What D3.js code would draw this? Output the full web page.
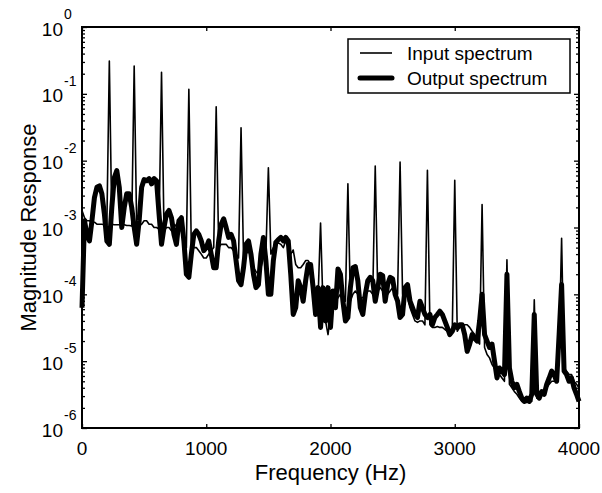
<!DOCTYPE html>
<html>
<head>
<meta charset="utf-8">
<script src="https://cdn.jsdelivr.net/npm/d3@7"></script>
<style>
  body { margin: 0; background: #fff; }
  text { font-family: Arial, "Liberation Sans", Helvetica, sans-serif; fill: #000; }
</style>
</head>
<body>
<div id="chart"></div>
<script>
// spectra sampled every 20 Hz from 0 to 4000 Hz (one row = 200 Hz)
const freqStep = 20;

const inputSpectrum = [
  1.8e-3, 1.4e-3, 1.26e-3, 1.26e-3, 1.2e-3, 1.2e-3, 1.12e-3, 1.12e-3, 1.12e-3, 1.1e-3,
  1.1e-3, 0.31, 1.12e-3, 1.1e-3, 1.1e-3, 1.1e-3, 1.1e-3, 1.1e-3, 1.07e-3, 1.07e-3,
  1.05e-3, 0.26, 1.0e-3, 1.05e-3, 1.12e-3, 1.26e-3, 1.26e-3, 1.12e-3, 1.12e-3, 1.0e-3,
  1.0e-3, 9.5e-4, 0.21, 8.9e-4, 1.0e-3, 1.0e-3, 8.9e-4, 1.0e-3, 1.12e-3, 1.26e-3,
  1.0e-3, 6.3e-4, 5.0e-4, 0.117, 4.5e-4, 5.0e-4, 5.0e-4, 4.5e-4, 4.0e-4, 3.5e-4,
  3.5e-4, 4.0e-4, 4.5e-4, 5.0e-4, 0.064, 5.0e-4, 5.6e-4, 5.6e-4, 5.6e-4, 5.0e-4,
  5.0e-4, 4.5e-4, 4.0e-4, 3.5e-4, 0.031, 3.5e-4, 4.0e-4, 4.5e-4, 3.5e-4, 2.5e-4,
  2.2e-4, 2.0e-4, 2.5e-4, 3.5e-4, 4.0e-4, 7.8e-3, 4.0e-4, 5.0e-4, 5.6e-4, 5.9e-4,
  5.6e-4, 5.0e-4, 6.3e-4, 5.0e-4, 4.0e-4, 4.6e-4, 2.8e-4, 2.5e-4, 2.5e-4, 2.8e-4,
  3.2e-4, 3.2e-4, 2.8e-4, 1.8e-4, 1.0e-4, 8.9e-5, 1.17e-3, 6.3e-5, 4.0e-5, 2.5e-5,
  5.0e-5, 8.9e-5, 7.9e-5, 8.9e-5, 1.0e-4, 8.9e-5, 7.9e-5, 4.5e-3, 7.9e-5, 1.0e-4,
  1.12e-4, 1.0e-4, 8.9e-5, 8.9e-5, 1.0e-4, 1.12e-4, 1.12e-4, 1.0e-4, 8.3e-3, 1.12e-4,
  1.26e-4, 1.12e-4, 1.0e-4, 1.0e-4, 1.12e-4, 1.26e-4, 1.12e-4, 1.0e-4, 9.5e-3, 1.0e-4,
  1.12e-4, 8.9e-5, 6.3e-5, 5.0e-5, 4.0e-5, 3.8e-5, 4.0e-5, 4.0e-5, 3.5e-5, 7.2e-3,
  3.5e-5, 3.2e-5, 3.2e-5, 3.3e-5, 3.2e-5, 3.2e-5, 3.0e-5, 2.8e-5, 2.8e-5, 2.8e-5,
  5.1e-3, 2.8e-5, 3.2e-5, 3.2e-5, 3.5e-5, 3.5e-5, 3.2e-5, 2.8e-5, 2.5e-5, 2.0e-5,
  1.8e-5, 2.2e-3, 1.6e-5, 1.26e-5, 1.12e-5, 8.9e-6, 7.9e-6, 7.1e-6, 6.3e-6, 5.6e-6,
  5.0e-6, 3.3e-4, 4.5e-6, 4.0e-6, 3.5e-6, 3.2e-6, 2.8e-6, 2.5e-6, 2.5e-6, 2.4e-6,
  2.5e-6, 2.5e-6, 8.3e-5, 2.8e-6, 2.8e-6, 3.2e-6, 3.5e-6, 4.0e-6, 4.5e-6, 5.0e-6,
  5.0e-6, 5.6e-6, 1.6e-5, 6.9e-4, 7.9e-6, 7.1e-6, 6.3e-6, 6.3e-6, 5.0e-6, 4.5e-6,
  4.0e-6
];

const outputSpectrum = [
  6.3e-5, 1.26e-3, 7.9e-4, 6.3e-4, 1.26e-3, 2.8e-3, 4.0e-3, 4.2e-3, 3.2e-3, 1.6e-3,
  6.3e-4, 5.6e-4, 2.0e-3, 5.6e-3, 7.1e-3, 4.0e-3, 1.0e-3, 2.0e-3, 3.2e-3, 3.2e-3,
  2.0e-3, 1.0e-3, 5.6e-4, 1.26e-3, 4.0e-3, 5.2e-3, 5.0e-3, 5.4e-3, 4.5e-3, 5.4e-3,
  5.0e-3, 1.6e-3, 5.6e-4, 1.0e-3, 1.6e-3, 1.8e-3, 1.4e-3, 7.9e-4, 5.6e-4, 1.26e-3,
  1.4e-3, 6.3e-4, 2.0e-4, 1.8e-4, 4.0e-4, 7.9e-4, 8.9e-4, 7.9e-4, 6.3e-4, 4.5e-4,
  5.0e-4, 6.3e-4, 4.0e-4, 2.5e-4, 2.5e-4, 6.3e-4, 1.12e-3, 1.35e-3, 1.0e-3, 7.1e-4,
  7.9e-4, 6.3e-4, 3.2e-4, 1.6e-4, 1.4e-4, 2.5e-4, 5.6e-4, 6.3e-4, 4.0e-4, 2.0e-4,
  1.26e-4, 1.4e-4, 4.0e-4, 7.1e-4, 3.2e-4, 1.0e-4, 1.0e-4, 3.2e-4, 6.0e-4, 6.6e-4,
  7.1e-4, 6.3e-4, 7.1e-4, 6.3e-4, 2.0e-4, 5.0e-5, 6.3e-5, 1.6e-4, 1.26e-4, 7.9e-5,
  1.6e-4, 2.8e-4, 2.8e-4, 1.26e-4, 5.0e-5, 1.26e-4, 3.2e-5, 1.26e-4, 4.0e-5, 1.26e-4,
  3.2e-5, 1.12e-4, 6.3e-5, 2.4e-4, 2.0e-4, 7.9e-5, 4.0e-5, 4.5e-5, 1.26e-4, 2.5e-4,
  2.6e-4, 1.6e-4, 6.3e-5, 5.0e-5, 1.0e-4, 1.6e-4, 1.8e-4, 1.6e-4, 7.9e-5, 1.26e-4,
  2.0e-4, 1.9e-4, 7.9e-5, 1.4e-4, 1.8e-4, 1.7e-4, 1.0e-4, 7.9e-5, 4.5e-5, 5.0e-5,
  1.26e-4, 1.4e-4, 7.9e-5, 6.3e-5, 5.0e-5, 4.5e-5, 7.9e-5, 6.3e-5, 5.0e-5, 4.5e-5,
  5.0e-5, 3.5e-5, 4.5e-5, 5.0e-5, 5.6e-5, 5.0e-5, 4.0e-5, 3.2e-5, 2.5e-5, 2.8e-5,
  3.5e-5, 3.2e-5, 3.5e-5, 3.5e-5, 2.5e-5, 1.4e-5, 1.8e-5, 2.5e-5, 2.2e-5, 2.0e-5,
  4.0e-5, 1.0e-4, 2.5e-5, 2.0e-5, 1.6e-5, 1.8e-5, 1.0e-5, 5.6e-6, 7.9e-6, 7.1e-6,
  6.3e-6, 2.0e-4, 7.9e-6, 5.0e-6, 4.0e-6, 4.5e-6, 3.5e-6, 2.8e-6, 2.5e-6, 2.8e-6,
  2.5e-6, 3.2e-6, 5.0e-5, 3.2e-6, 2.8e-6, 3.5e-6, 3.2e-6, 4.5e-6, 5.6e-6, 7.1e-6,
  6.3e-6, 5.0e-6, 2.5e-5, 1.4e-4, 7.1e-6, 6.3e-6, 5.0e-6, 5.6e-6, 4.0e-6, 3.2e-6,
  2.5e-6
];

const xTicks = [0, 1000, 2000, 3000, 4000];
const yExponents = [0, -1, -2, -3, -4, -5, -6];
const legendLabels = ["Input spectrum", "Output spectrum"];

const W = 602, H = 493;
const margin = {top: 27, right: 23, bottom: 65, left: 82},
    width = W - margin.left - margin.right,
    height = H - margin.top - margin.bottom;

var svg = d3.select("#chart")
  .append("svg")
    .attr("width", W)
    .attr("height", H)
  .append("g")
    .attr("transform", "translate(" + margin.left + "," + margin.top + ")");

var x = d3.scaleLinear().domain([0, 4000]).range([0, width]);
var y = d3.scaleLog().domain([1e-6, 1]).range([height, 0]);

// major + minor log ticks
var majors = yExponents.map(e => Math.pow(10, e));
var minors = [];
yExponents.slice(1).forEach(e => {
  for (var m = 2; m <= 9; m++) minors.push(m * Math.pow(10, e));
});

// inside ticks on all four sides
svg.append("g")
  .attr("transform", `translate(0,${height})`)
  .call(d3.axisBottom(x).tickValues(xTicks).tickSize(-4).tickFormat(""));
svg.append("g")
  .call(d3.axisTop(x).tickValues(xTicks).tickSize(-4).tickFormat(""));
svg.append("g")
  .call(d3.axisLeft(y).tickValues(majors).tickSize(-5).tickFormat(""));
svg.append("g")
  .call(d3.axisLeft(y).tickValues(minors).tickSize(-3).tickFormat(""));
svg.append("g")
  .attr("transform", `translate(${width},0)`)
  .call(d3.axisRight(y).tickValues(majors).tickSize(-5).tickFormat(""));
svg.append("g")
  .attr("transform", `translate(${width},0)`)
  .call(d3.axisRight(y).tickValues(minors).tickSize(-3).tickFormat(""));
svg.selectAll(".domain").remove();
svg.selectAll(".tick line").attr("stroke", "#000").attr("stroke-width", 1.3);

// x tick labels
svg.append("g").selectAll("text")
  .data(xTicks)
  .enter().append("text")
    .attr("x", d => x(d))
    .attr("y", height + 27)
    .attr("text-anchor", "middle")
    .style("font-size", "19px")
    .text(d => d);

// y tick labels 10^n
var yl = svg.append("g").selectAll("g")
  .data(yExponents)
  .enter().append("g")
    .attr("transform", d => "translate(-19," + y(Math.pow(10, d)) + ")");
yl.append("text")
    .attr("y", 8.5)
    .attr("text-anchor", "end")
    .style("font-size", "19px")
    .text("10");
yl.append("text")
    .attr("x", 1)
    .attr("y", -8)
    .style("font-size", "14px")
    .text(d => d);

// spectra
var freqs = inputSpectrum.map((v, i) => i * freqStep);
var line = d3.line()
  .x((d, i) => x(freqs[i]))
  .y(d => y(d));

svg.append("path")
  .datum(inputSpectrum)
  .attr("fill", "none")
  .attr("stroke", "#000")
  .attr("stroke-width", 1.6)
  .attr("stroke-linejoin", "round")
  .attr("d", line);

svg.append("path")
  .datum(outputSpectrum)
  .attr("fill", "none")
  .attr("stroke", "#000")
  .attr("stroke-width", 5)
  .attr("stroke-linejoin", "round")
  .attr("d", line);

// frame
svg.append("rect")
  .attr("width", width)
  .attr("height", height)
  .attr("fill", "none")
  .attr("stroke", "#000")
  .attr("stroke-width", 2);

// axis labels
svg.append("text")
  .attr("text-anchor", "middle")
  .attr("x", width / 2)
  .attr("y", height + 52)
  .style("font-size", "22px")
  .text("Frequency (Hz)");

svg.append("text")
  .attr("text-anchor", "middle")
  .attr("transform", "translate(-46," + height / 2 + ") rotate(-90)")
  .style("font-size", "22px")
  .text("Magnitude Response");

// legend
var lg = svg.append("g").attr("transform", "translate(266,12)");
lg.append("rect")
  .attr("width", 222)
  .attr("height", 54)
  .attr("fill", "#fff")
  .attr("stroke", "#000")
  .attr("stroke-width", 1.5);
legendLabels.forEach((t, i) => {
  lg.append("line")
    .attr("x1", 12).attr("x2", 44)
    .attr("y1", 14 + i * 25).attr("y2", 14 + i * 25)
    .attr("stroke", "#000")
    .attr("stroke-width", i ? 5 : 1.6)
    .attr("stroke-linecap", i ? "round" : "butt");
  lg.append("text")
    .attr("x", 59)
    .attr("y", 20.5 + i * 25)
    .style("font-size", "19px")
    .text(t);
});
</script>
</body>
</html>
